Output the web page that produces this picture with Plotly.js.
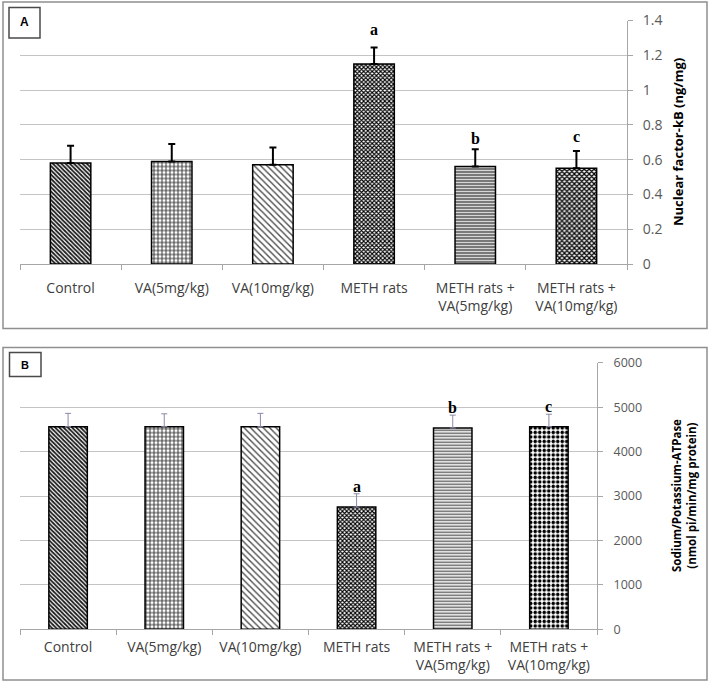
<!DOCTYPE html>
<html>
<head>
<meta charset="utf-8">
<script src="https://cdn.plot.ly/plotly-3.0.1.min.js"></script>
<style>
  html, body { margin: 0; padding: 0; background: #ffffff; }
  #chart { width: 712px; height: 682px; }
</style>
</head>
<body>
<div id="chart"></div>
<script>
// Treatment groups shared by both panels
const groups = [
  'Control',
  'VA(5mg/kg)',
  'VA(10mg/kg)',
  'METH rats',
  'METH rats +<br>VA(5mg/kg)',
  'METH rats +<br>VA(10mg/kg)'
];

// Panel A: Nuclear factor-kB (ng/mg)
const nfkbMean = [0.58, 0.59, 0.57, 1.15, 0.56, 0.55];
const nfkbSE   = [0.10, 0.10, 0.10, 0.095, 0.10, 0.10];
const nfkbSig  = ['', '', '', 'a', 'b', 'c'];

// Panel B: Sodium/Potassium-ATPase (nmol pi/min/mg protein)
const atpaseMean = [4560, 4560, 4560, 2750, 4530, 4560];
const atpaseSE   = [300, 290, 300, 300, 290, 280];
const atpaseSig  = ['', '', '', 'a', 'b', 'c'];

const W = 712, H = 682;
const px = v => v / W;          // horizontal pixel -> paper
const py = v => 1 - v / H;      // vertical pixel -> paper

// Fill patterns per group
const patA = {
  shape:    ['\\', '+', '\\', 'x', '-', 'x'],
  fgcolor:  ['#1a1a1a', '#2a2a2a', '#4a4a4a', '#000000', '#1a1a1a', '#000000'],
  size:     [3, 4, 4.5, 3, 3, 3.5],
  solidity: [0.6, 0.4, 0.3, 0.6, 0.45, 0.6]
};
const patB = {
  shape:    ['\\', '+', '\\', 'x', '-', '.'],
  fgcolor:  ['#1a1a1a', '#2a2a2a', '#4a4a4a', '#000000', '#555555', '#000000'],
  size:     [3, 4, 4.5, 3, 3, 4.5],
  solidity: [0.6, 0.4, 0.3, 0.6, 0.45, 0.5]
};

function barTrace(y, err, pat, xa, ya, errStyle) {
  return {
    type: 'bar',
    x: groups,
    y: y,
    xaxis: xa,
    yaxis: ya,
    error_y: Object.assign({ type: 'data', array: err, visible: true, symmetric: false }, errStyle),
    marker: {
      color: '#ffffff',
      line: { color: '#000000', width: 1.5 },
      pattern: Object.assign({ bgcolor: '#ffffff', fillmode: 'replace' }, pat)
    },
    hoverinfo: 'x+y',
    showlegend: false
  };
}

const traces = [
  barTrace(nfkbMean, nfkbSE, patA, 'x', 'y', { color: '#000000', thickness: 2, width: 3.5 }),
  barTrace(atpaseMean, atpaseSE, patB, 'x2', 'y2', { color: '#8a8aa8', thickness: 1, width: 3 })
];

const gridCol = '#c4c4c4';
const axisCol = '#a6a6a6';
const tickFont = { family: 'Open Sans, sans-serif', size: 14, color: '#404040' };

function xAxis(domain, anchor, standoff) {
  return {
    domain: domain, anchor: anchor, type: 'category',
    tickson: 'boundaries', ticks: 'outside', ticklen: 5, tickcolor: axisCol,
    showline: true, linecolor: axisCol, linewidth: 1,
    showgrid: false, zeroline: false,
    tickfont: tickFont, ticklabelstandoff: standoff, fixedrange: true
  };
}
function yAxis(domain, anchor, range, dtick, size, standoff) {
  return {
    domain: domain, anchor: anchor, side: 'right', range: range, dtick: dtick,
    ticks: 'outside', ticklen: 5, tickcolor: axisCol,
    showline: true, linecolor: axisCol, linewidth: 1,
    showgrid: true, gridcolor: gridCol, gridwidth: 1, zeroline: false,
    tickfont: { family: 'Open Sans, sans-serif', size: size, color: '#595959' },
    ticklabelstandoff: standoff, fixedrange: true
  };
}

// Significance letters above the error bars (per-letter vertical nudge)
const letterShiftA = [0, 0, 0, 7.5, 0.5, 3.5];
const letterShiftB = [0, 0, 0, -3.5, -2.5, -2.5];
const annotations = [];
function addLetters(sig, mean, err, shifts, xa, ya) {
  sig.forEach((s, i) => {
    if (!s) return;
    annotations.push({
      xref: xa, yref: ya, x: groups[i], y: mean[i] + err[i],
      text: '<b>' + s + '</b>', showarrow: false,
      yanchor: 'bottom', yshift: shifts[i],
      font: { family: 'Liberation Serif, serif', size: 16, color: '#000000' }
    });
  });
}
addLetters(nfkbSig, nfkbMean, nfkbSE, letterShiftA, 'x', 'y');
addLetters(atpaseSig, atpaseMean, atpaseSE, letterShiftB, 'x2', 'y2');

// Axis titles
annotations.push({
  xref: 'paper', yref: 'paper', x: px(678), y: py(142),
  text: '<b>Nuclear factor-kB (ng/mg)</b>', textangle: -90, showarrow: false,
  xanchor: 'center', yanchor: 'middle',
  font: { family: 'Open Sans, sans-serif', size: 13, color: '#000000' }
});
annotations.push({
  xref: 'paper', yref: 'paper', x: px(684), y: py(496),
  text: '<b>Sodium/Potassium-ATPase<br>(nmol pi/min/mg protein)</b>', textangle: -90, showarrow: false,
  xanchor: 'center', yanchor: 'middle',
  font: { family: 'Open Sans, sans-serif', size: 11.5, color: '#000000' }
});

// Panel letters
annotations.push({
  xref: 'paper', yref: 'paper', x: px(24.5), y: py(22.5),
  text: '<b>A</b>', showarrow: false, xanchor: 'center', yanchor: 'middle',
  font: { family: 'Liberation Sans, Arial, sans-serif', size: 12, color: '#000000' }
});
annotations.push({
  xref: 'paper', yref: 'paper', x: px(25), y: py(364.5),
  text: '<b>B</b>', showarrow: false, xanchor: 'center', yanchor: 'middle',
  font: { family: 'Liberation Sans, Arial, sans-serif', size: 11, color: '#000000' }
});

const shapes = [
  // panel frames
  { type: 'rect', xref: 'paper', yref: 'paper', x0: px(3), x1: px(707), y0: py(2), y1: py(328.5),
    line: { color: '#8f8f8f', width: 1.5 }, fillcolor: 'rgba(0,0,0,0)', layer: 'above' },
  { type: 'rect', xref: 'paper', yref: 'paper', x0: px(3), x1: px(707), y0: py(347.5), y1: py(680),
    line: { color: '#8f8f8f', width: 1.5 }, fillcolor: 'rgba(0,0,0,0)', layer: 'above' },
  // panel letter boxes
  { type: 'rect', xref: 'paper', yref: 'paper', x0: px(9), x1: px(40), y0: py(7.5), y1: py(38),
    line: { color: '#4a4a4a', width: 1.5 }, fillcolor: '#ffffff', layer: 'above' },
  { type: 'rect', xref: 'paper', yref: 'paper', x0: px(9.5), x1: px(41), y0: py(352.5), y1: py(376.5),
    line: { color: '#4a4a4a', width: 1.5 }, fillcolor: '#ffffff', layer: 'above' }
];

const layout = {
  width: W, height: H,
  margin: { l: 0, r: 0, t: 0, b: 0, pad: 0 },
  paper_bgcolor: '#ffffff', plot_bgcolor: '#ffffff',
  bargap: 0.6,
  showlegend: false,
  xaxis:  xAxis([px(20), px(627)], 'y', 11),
  yaxis:  yAxis([py(264), py(20.5)], 'x', [0, 1.4], 0.2, 14, 7),
  xaxis2: xAxis([px(20), px(597)], 'y2', 5),
  yaxis2: yAxis([py(629.3), py(362.7)], 'x2', [0, 6000], 1000, 12.5, 8),
  annotations: annotations,
  shapes: shapes
};

Plotly.newPlot('chart', traces, layout, { displayModeBar: false, staticPlot: true });
</script>
</body>
</html>
